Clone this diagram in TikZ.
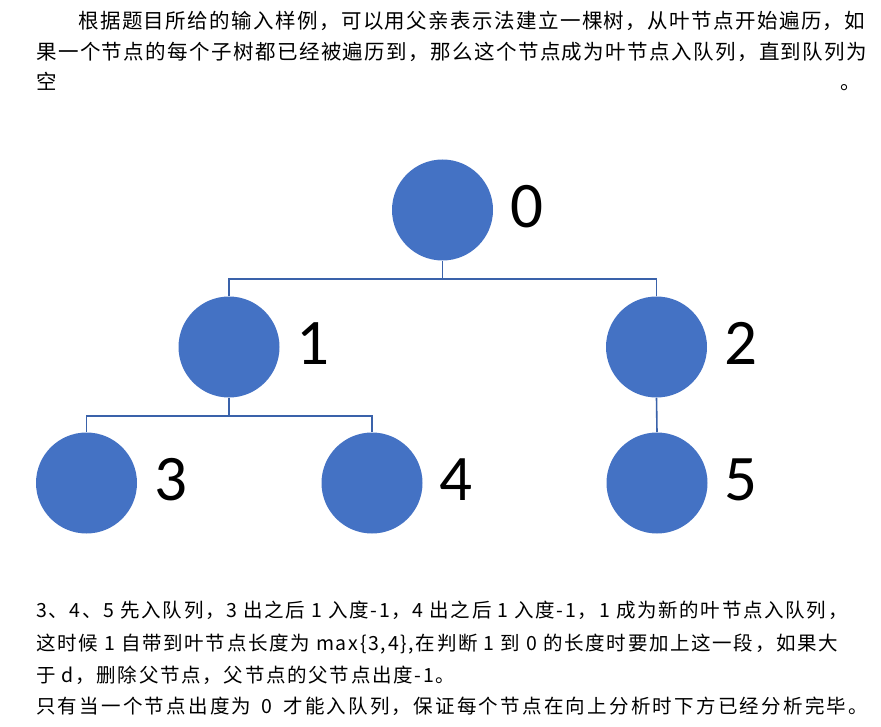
\documentclass[tikz,border=0pt]{standalone}
\usepackage{fontspec}
\usepackage{xcolor}
\usepackage{tikz}
\usetikzlibrary{positioning}
\newfontfamily\cjktop[LetterSpace=6.85]{Noto Sans CJK SC}
\newfontfamily\cjkbot[LetterSpace=8.7]{Noto Sans CJK SC}
\newfontfamily\cjkwide[LetterSpace=11.5]{Noto Sans CJK SC}
\newfontfamily\digitfont{Carlito}
\definecolor{nodeblue}{RGB}{68,114,196}
\definecolor{linkblue}{RGB}{58,98,170}
\tikzset{every picture/.style={line width=.55pt}}

\begin{document}
\begin{tikzpicture}[x=1pt,y=-1pt,
 every node/.style={inner sep=0pt},
 treenode/.style={circle,fill=nodeblue,minimum size=101pt},
 numlabel/.style={font=\digitfont\fontsize{65}{65}\selectfont},
 toptext/.style={anchor=base west,font=\cjktop\fontsize{20.5}{24}\selectfont},
 bottext/.style={anchor=base west,font=\cjkbot\fontsize{19.5}{23}\selectfont},
 link/.style={draw=linkblue,line width=1.6pt}]
 \useasboundingbox (0,0) rectangle (881,727);

 % The paragraph above the tree, one node per printed line.
 \node[toptext] (t1) at (78,29)
  {根据题目所给的输入样例，可以用父亲表示法建立一棵树，从叶节点开始遍历，如};
 \node[toptext] (t2) at (36,60)
  {果一个节点的每个子树都已经被遍历到，那么这个节点成为叶节点入队列，直到队列为};
 \node[toptext] (t3) at (36,90) {空};
 \node[toptext] (t4) at (840,90) {。};

 % The tree: a circle per vertex, its number to the right.
 \foreach \name/\xx/\yy in {0/442.5/210,1/229/347,2/656.5/347,
  3/86.5/483,4/372/483,5/657/483}{
  \node[treenode] (n\name) at (\xx,\yy) {};
  \node[numlabel] (l\name) at (\xx+84,\yy-3.5) {\name};
 }

 % Elbow links from each parent down to its children.
 \draw[link] (n0.south) -- ++(0,18.5) coordinate (b0) -| (n1.north);
 \draw[link] (b0) -| (n2.north);
 \draw[link] (n1.south) -- ++(0,18.5) coordinate (b1) -| (n3.north);
 \draw[link] (b1) -| (n4.north);
 \draw[link] (n2.south) -- (n5.north);

 % The explanation below the tree.
 \node[bottext] (s1) at (36,617)
  {3、4、5 先入队列，3 出之后 1 入度-1，4 出之后 1 入度-1，1 成为新的叶节点入队列，};
 \node[bottext] (s2) at (36,650)
  {这时候 1 自带到叶节点长度为 max\{3,4\},在判断 1 到 0 的长度时要加上这一段，如果大};
 \node[bottext] (s3) at (36,682) {于 d，删除父节点，父节点的父节点出度-1。};
 \node[bottext,font=\cjkwide\fontsize{19.5}{23}\selectfont] (s4) at (36,713)
  {只有当一个节点出度为\hspace{10pt}0\hspace{11pt}才能入队列，保证每个节点在向上分析时下方已经分析完毕。};
\end{tikzpicture}
\end{document}
